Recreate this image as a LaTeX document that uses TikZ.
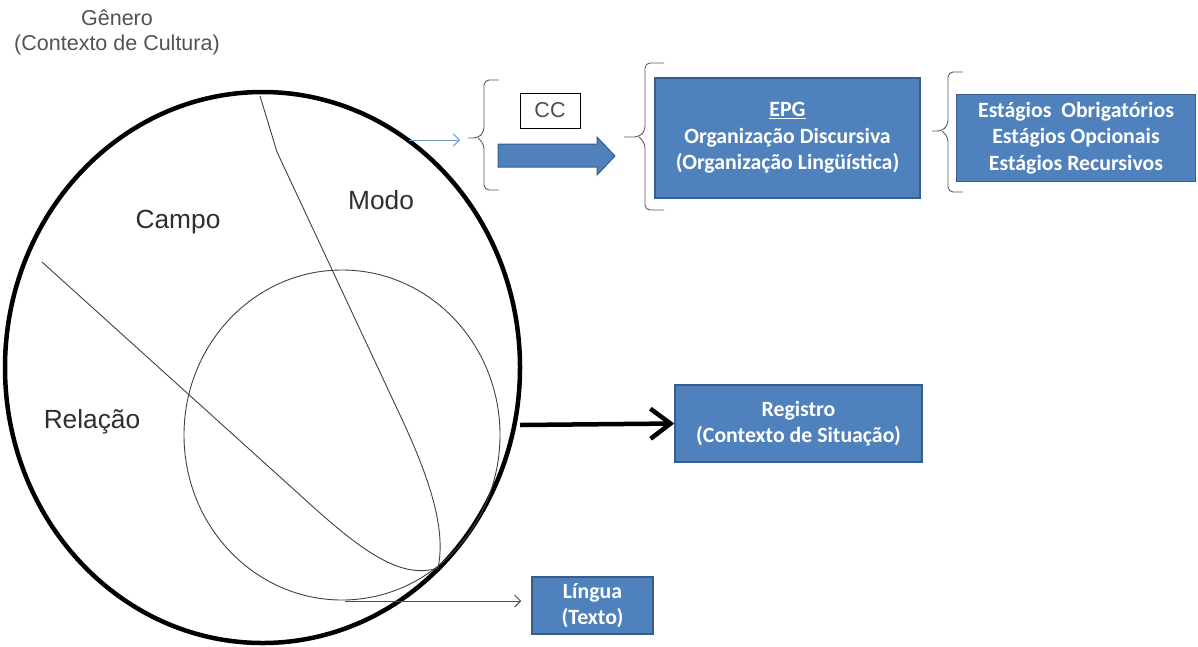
\documentclass[tikz,border=0pt]{standalone}
\usepackage{fontspec}
\setmainfont{Liberation Sans}
\newfontfamily\boxfont{Carlito}
\usetikzlibrary{arrows.meta}
\definecolor{boxblue}{HTML}{4F81BD}
\definecolor{boxedge}{HTML}{385D8A}
\definecolor{thinblue}{HTML}{6F9AD0}
\definecolor{txtgray}{HTML}{2E2E2E}
\begin{document}
\begin{tikzpicture}[x=1pt, y=-1pt,
        box/.style={draw=boxedge, line width=1.5pt, fill=boxblue, text=white, align=center, inner sep=0pt,
            font=\boxfont\bfseries\fontsize{21.8}{26.5}\selectfont},
        lbl/.style={text=txtgray, font=\fontsize{26.3}{30}\selectfont},
        brc/.style={draw=black!65, line width=0.9pt, rounded corners=5pt},
        part/.style={draw=black!75, line width=0.9pt}]
        \useasboundingbox (0,0) rectangle (1198,646);
        \node[text=black!68, align=center, font=\fontsize{21.5}{25}\selectfont] (genero) at (117,32) {Gênero\\(Contexto de Cultura)};
        \draw[line width=4.5pt] (262.5,367.5) ellipse [x radius=257.5, y radius=275.5];
        \draw[part] (342,435) ellipse [x radius=158, y radius=165];
        \draw[part] (260,96) -- (277,152) -- (400,415) .. controls (431,481) and (446,530) .. (438,568);
        \draw[part] (42,262) -- (300,495) .. controls (360,550) and (400,580) .. (438,568);
        \node[lbl] (campo) at (178,222) {Campo};
        \node[lbl] (modo) at (381,200) {Modo};
        \node[lbl] (relacao) at (92,422) {Relação};
        \coordinate (ellA) at (409,140);
        \coordinate (ellR) at (520,425);
        \coordinate (circB) at (345,601);
        \draw[brc] (499,80) -- (484,80) -- (484,132) -- (478,138) -- (468,138);
        \draw[brc] (478,138) -- (484,144) -- (484,190) -- (499,190);
        \coordinate (brA) at (460,140);
        \node[draw, line width=1pt, minimum width=60pt, minimum height=35pt, inner sep=0pt, text=black!70, font=\fontsize{21.5}{24}\selectfont] (cc) at (550,110.5) {CC};
        \draw[fill=boxblue, draw=boxedge, line width=1pt] (498,144) -- (597,144) -- (597,137) -- (615,156) -- (597,175) -- (597,167) -- (498,167) -- cycle;
        \draw[brc] (664,63) -- (645,63) -- (645,131) -- (639,137) -- (624,137);
        \draw[brc] (639,137) -- (645,143) -- (645,210) -- (664,210);
        \node[box, minimum width=265pt, minimum height=120pt] (epg) at (787.5,138) {\underline{EPG}\\Organização Discursiva\\(Organização Lingüística)};
        \draw[brc] (963,72) -- (948,72) -- (948,125) -- (942,131) -- (932,131);
        \draw[brc] (942,131) -- (948,137) -- (948,192) -- (963,192);
        \node[box, minimum width=239pt, minimum height=87pt] (estagios) at (1076,138) {Estágios~ Obrigatórios\\Estágios Opcionais\\Estágios Recursivos};
        \node[box, minimum width=247pt, minimum height=77pt] (registro) at (798.5,423.5) {Registro\\(Contexto de Situação)};
        \node[box, minimum width=121pt, minimum height=57pt] (lingua) at (592.5,605.5) {Língua\\(Texto)};
        \draw[thinblue, line width=1pt, -{Straight Barb[length=6pt, width=12pt]}] (ellA) -- (brA);
        \draw[line width=4.5pt, -{Straight Barb[length=20pt, width=30pt]}] (ellR) -- (registro.west);
        \draw[black!70, line width=1pt, -{Straight Barb[length=6pt, width=12pt]}] (circB) -- ([xshift=-10pt]circB -| lingua.west);
\end{tikzpicture}
\end{document}
